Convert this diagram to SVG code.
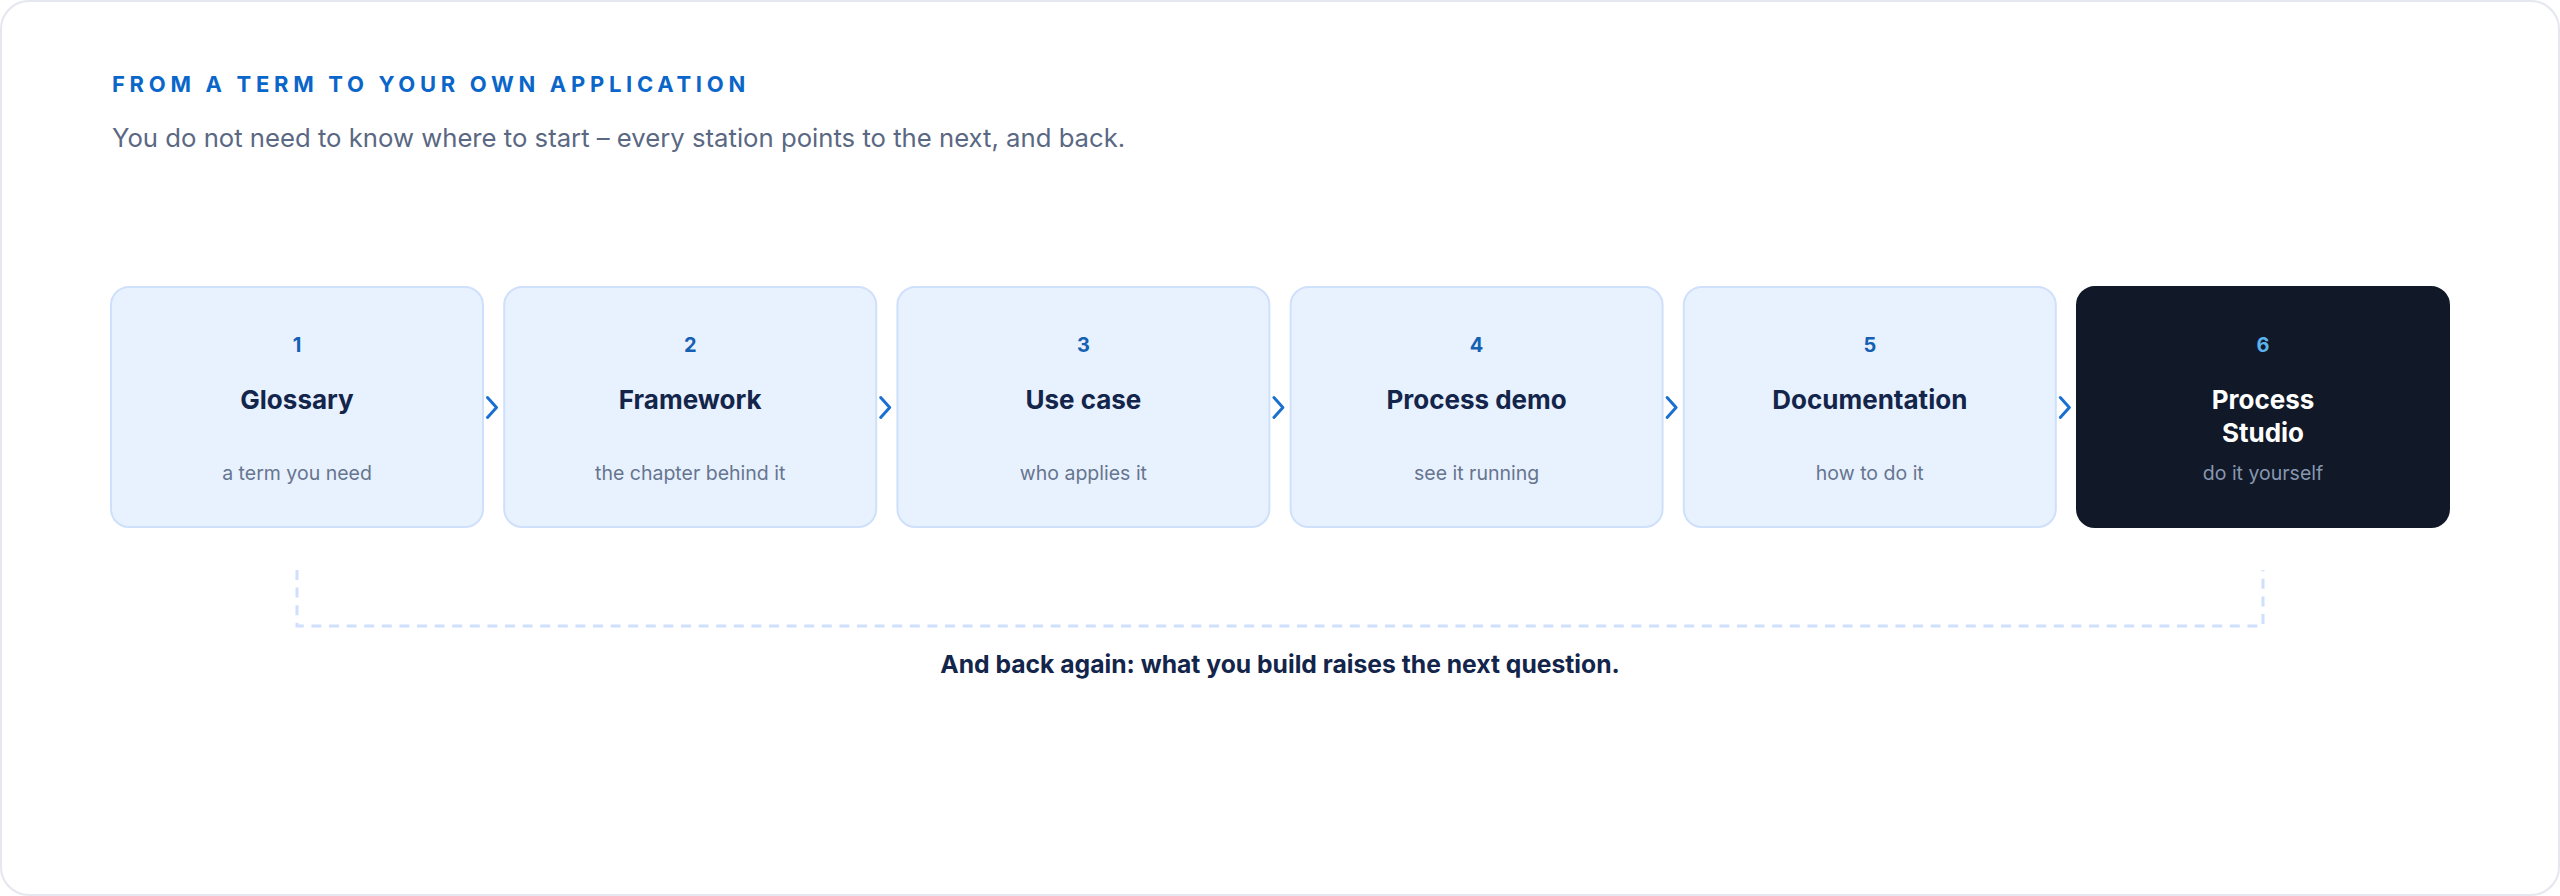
<svg xmlns="http://www.w3.org/2000/svg" width="2560" height="896" viewBox="0 0 2560 896">
  <defs>
    <style>
      text { font-family: Inter, "Liberation Sans", "DejaVu Sans", sans-serif; }
      .eyebrow { font-size: 22px; font-weight: 700; fill: #0b66c9; letter-spacing: 4.7px; }
      .lead { font-size: 25.7px; font-weight: 400; fill: #5a6883; }
      .card { fill: #e8f1fe; stroke: #cfe0fb; stroke-width: 2; }
      .card-dark { fill: #111827; stroke: #111827; stroke-width: 2; }
      .num { font-size: 20px; font-weight: 700; fill: #1460b3; text-anchor: middle; }
      .num-dark { font-size: 20px; font-weight: 700; fill: #5cb2ec; text-anchor: middle; }
      .title { font-size: 26px; font-weight: 700; fill: #13254a; text-anchor: middle; }
      .title-dark { font-size: 26px; font-weight: 700; fill: #ffffff; text-anchor: middle; }
      .sub { font-size: 19.5px; font-weight: 400; fill: #66758f; text-anchor: middle; }
      .sub-dark { font-size: 19.5px; font-weight: 400; fill: #8797b0; text-anchor: middle; }
      .chev { fill: none; stroke: #1a6fd0; stroke-width: 3; stroke-linecap: round; stroke-linejoin: round; }
      .loop { fill: none; stroke: #cfe0fd; stroke-width: 3; stroke-dasharray: 10 7.6; }
      .note { font-size: 24.7px; font-weight: 700; fill: #13254a; text-anchor: middle; }
    </style>
  </defs>

  <rect x="1" y="1" width="2558" height="894" rx="28" ry="28" fill="#ffffff" stroke="#e5e7ee" stroke-width="2"/>

  <g id="header">
    <text class="eyebrow" x="112" y="92">FROM A TERM TO YOUR OWN APPLICATION</text>
    <text class="lead" x="112" y="147">You do not need to know where to start – every station points to the next, and back.</text>
  </g>

  <g id="node-1">
    <rect class="card" x="111" y="287" width="372" height="240" rx="18" ry="18"/>
    <text class="num" x="297" y="352">1</text>
    <text class="title" x="297" y="409">Glossary</text>
    <text class="sub" x="297" y="480">a term you need</text>
  </g>
  <g id="node-2">
    <rect class="card" x="504.2" y="287" width="372" height="240" rx="18" ry="18"/>
    <text class="num" x="690.2" y="352">2</text>
    <text class="title" x="690.2" y="409">Framework</text>
    <text class="sub" x="690.2" y="480">the chapter behind it</text>
  </g>
  <g id="node-3">
    <rect class="card" x="897.4" y="287" width="372" height="240" rx="18" ry="18"/>
    <text class="num" x="1083.4" y="352">3</text>
    <text class="title" x="1083.4" y="409">Use case</text>
    <text class="sub" x="1083.4" y="480">who applies it</text>
  </g>
  <g id="node-4">
    <rect class="card" x="1290.6" y="287" width="372" height="240" rx="18" ry="18"/>
    <text class="num" x="1476.6" y="352">4</text>
    <text class="title" x="1476.6" y="409">Process demo</text>
    <text class="sub" x="1476.6" y="480">see it running</text>
  </g>
  <g id="node-5">
    <rect class="card" x="1683.8" y="287" width="372" height="240" rx="18" ry="18"/>
    <text class="num" x="1869.8" y="352">5</text>
    <text class="title" x="1869.8" y="409">Documentation</text>
    <text class="sub" x="1869.8" y="480">how to do it</text>
  </g>
  <g id="node-6">
    <rect class="card-dark" x="2077" y="287" width="372" height="240" rx="18" ry="18"/>
    <text class="num-dark" x="2263" y="352">6</text>
    <text class="title-dark" x="2263" y="409">Process</text>
    <text class="title-dark" x="2263" y="442">Studio</text>
    <text class="sub-dark" x="2263" y="480">do it yourself</text>
  </g>

  <g id="connectors">
    <path class="chev" d="M487.5 397.5 L496.5 407.5 L487.5 417.5"/>
    <path class="chev" d="M880.7 397.5 L889.7 407.5 L880.7 417.5"/>
    <path class="chev" d="M1273.9 397.5 L1282.9 407.5 L1273.9 417.5"/>
    <path class="chev" d="M1667.1 397.5 L1676.1 407.5 L1667.1 417.5"/>
    <path class="chev" d="M2060.3 397.5 L2069.3 407.5 L2060.3 417.5"/>
    <path class="loop" d="M297 570 L297 626 L2263 626 L2263 570"/>
  </g>

  <g id="loop-label">
    <text class="note" x="1280" y="673">And back again: what you build raises the next question.</text>
  </g>
</svg>
